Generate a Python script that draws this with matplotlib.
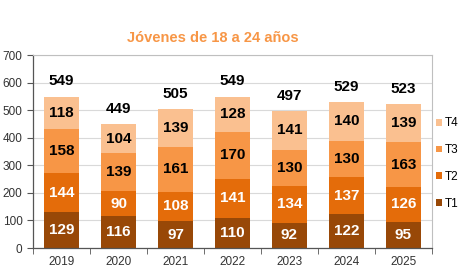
import numpy as np
import matplotlib.pyplot as plt

plt.rcParams['font.family'] = ['Liberation Sans', 'DejaVu Sans']

years = ["2019", "2020", "2021", "2022", "2023", "2024", "2025"]
t1 = [129, 116, 97, 110, 92, 122, 95]
t2 = [144, 90, 108, 141, 134, 137, 126]
t3 = [158, 139, 161, 170, 130, 130, 163]
t4 = [118, 104, 139, 128, 141, 140, 139]

series = [("T1", t1, "#984807", "white"),
          ("T2", t2, "#E46C0A", "white"),
          ("T3", t3, "#F79646", "black"),
          ("T4", t4, "#FAC090", "black")]

fig = plt.figure(figsize=(4.65, 2.75), dpi=100)
ax = fig.add_axes([0.071, 0.098, 0.858, 0.702])

x = np.arange(len(years))
bottom = np.zeros(len(years))
handles = []
for name, vals, color, tcolor in series:
	vals = np.array(vals)
	b = ax.bar(x, vals, 0.61, bottom=bottom, color=color, label=name, zorder=2)
	handles.append(b)
	for xi, v, bt in zip(x, vals, bottom):
		ax.text(xi, bt + v / 2, str(v), ha="center", va="center",
				color=tcolor, fontsize=11, fontweight="bold", zorder=3)
	bottom = bottom + vals

for xi, tot in zip(x, bottom):
	ax.annotate(str(int(tot)), (xi, tot), xytext=(0, 11), textcoords="offset points",
				ha="center", va="center", fontsize=11, fontweight="bold")

ax.set_xlim(-0.5, len(years) - 0.5)
ax.set_ylim(0, 700)
ax.set_yticks(range(0, 701, 100))
ax.set_xticks(x)
ax.set_xticklabels(years)
ax.set_xticks(np.arange(-0.5, len(years)), minor=True)
ax.tick_params(axis="x", which="major", length=0, labelsize=8.5, colors="#333333", pad=6)
ax.tick_params(axis="x", which="minor", length=4, color="#555555")
ax.tick_params(axis="y", length=4, labelsize=8.5, colors="#333333", color="#555555")
ax.grid(axis="y", color="#d9d9d9", linewidth=0.8, zorder=0)
ax.set_axisbelow(True)
for side in ["top", "right"]:
	ax.spines[side].set_color("#bfbfbf")
	ax.spines[side].set_linewidth(0.8)
for side in ["left", "bottom"]:
	ax.spines[side].set_color("#555555")
	ax.spines[side].set_linewidth(0.9)

fig.text(0.458, 0.862, "Jóvenes de 18 a 24 años", ha="center", va="center",
		 color="#F79646", fontsize=10.5, fontweight="bold")

fig.legend(handles[::-1], ["T4", "T3", "T2", "T1"], loc="center left",
		   bbox_to_anchor=(0.937, 0.405), frameon=False, fontsize=8.5,
		   handlelength=0.5, handleheight=0.5, handletextpad=0.3,
		   labelspacing=1.25, borderpad=0, borderaxespad=0)

fig.savefig("out.png", dpi=100)
